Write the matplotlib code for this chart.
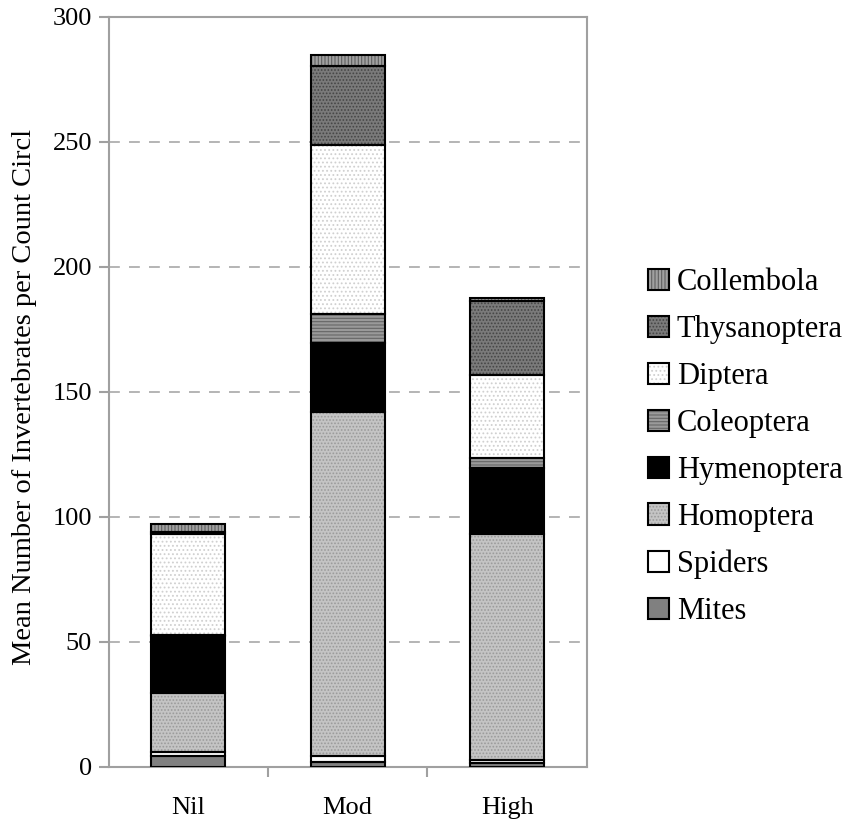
import matplotlib
matplotlib.use("Agg")
import matplotlib.pyplot as plt
import numpy as np

categories = ['Nil', 'Mod', 'High']
series_names = ['Mites', 'Spiders', 'Homoptera', 'Hymenoptera', 'Coleoptera',
                'Diptera', 'Thysanoptera', 'Collembola']
mites = [4.3, 2.0, 1.4]
spiders = [1.5, 2.4, 1.2]
homoptera = [23.8, 137.4, 90.6]
hymenoptera = [22.7, 27.8, 26.3]
coleoptera = [0.4, 11.5, 4.0]
diptera = [40.4, 67.7, 33.1]
thysanoptera = [0.8, 31.5, 29.7]
collembola = [3.2, 4.4, 1.1]
yticks = [0, 50, 100, 150, 200, 250, 300]
ylabel = 'Mean Number of Invertebrates per Count Circl'

series_values = [mites, spiders, homoptera, hymenoptera, coleoptera,
                 diptera, thysanoptera, collembola]
# (fill, hatch, hatch colour)
styles = [
    ('#808080', None, '#808080'),
    ('#ffffff', None, '#ffffff'),
    ('#c4c4c4', '.....', '#9a9a9a'),
    ('#000000', None, '#000000'),
    ('#9a9a9a', '-----', '#666666'),
    ('#ffffff', '....', '#d0d0d0'),
    ('#7a7a7a', '.....', '#454545'),
    ('#a0a0a0', '|||||', '#606060'),
]

plt.rcParams['font.family'] = ['Liberation Serif', 'DejaVu Serif']
plt.rcParams['hatch.linewidth'] = 0.8

fig = plt.figure(figsize=(8.48, 8.25), dpi=100)
ax = fig.add_axes([0.128, 0.0707, 0.564, 0.9091])

x = np.arange(len(categories))
width = 0.465
bottom = np.zeros(len(categories))
handles = []
for name, vals, (fc, hatch, hc) in zip(series_names, series_values, styles):
    v = np.array(vals)
    b1 = ax.bar(x, v, width, bottom=bottom, color=fc, hatch=hatch,
                edgecolor=hc, linewidth=0, zorder=2)
    b2 = ax.bar(x, v, width, bottom=bottom, fill=False,
                edgecolor='black', linewidth=1.5, zorder=3)
    handles.append((b1[0], b2[0]))
    bottom += v

ax.set_xlim(-0.5, 2.5)
ax.set_ylim(0, 300)
ax.set_yticks(yticks)
ax.set_xticks(x)
ax.set_xticklabels(categories)
ax.set_xticks([0.5, 1.5], minor=True)
ax.tick_params(axis='x', which='major', length=0, pad=22, labelsize=19)
ax.tick_params(axis='x', which='minor', length=7, width=1.5, color='#a0a0a0')
ax.tick_params(axis='y', length=7, width=1.5, color='#a0a0a0', labelsize=19, pad=5)
ax.yaxis.grid(True, linestyle=(0, (6.5, 5.5)), color='#a8a8a8', linewidth=1.2, zorder=0)
ax.set_axisbelow(True)
for s in ax.spines.values():
    s.set_color('#a0a0a0')
    s.set_linewidth(1.5)
ax.set_ylabel(ylabel, fontsize=20.5)
ax.yaxis.set_label_coords(-0.15, 0.493)

order = list(range(len(series_names)))[::-1]
fig.legend([handles[i] for i in order], [series_names[i] for i in order],
           loc='center left', bbox_to_anchor=(0.764, 0.458), frameon=False,
           fontsize=22, handlelength=0.69, handleheight=0.69, handletextpad=0.26,
           labelspacing=0.585, borderaxespad=0, borderpad=0)

fig.savefig('out.png', dpi=100)
